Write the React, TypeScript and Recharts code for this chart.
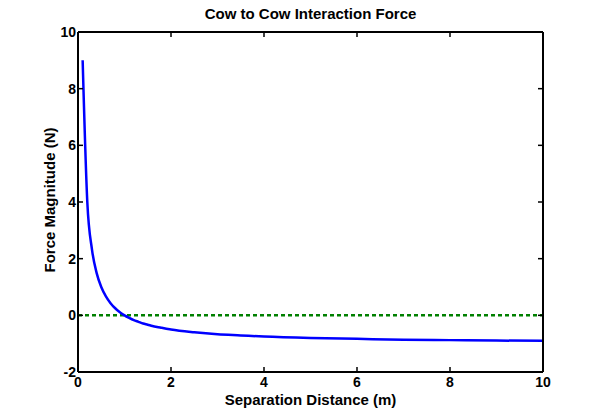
import { LineChart, Line, XAxis, YAxis, ReferenceLine } from 'recharts'

// separation distance (m) and force magnitude (N)
const distances = [
  0.1, 0.2, 0.3, 0.4, 0.5, 0.6, 0.7, 0.8, 0.9, 1.0,
  1.1, 1.2, 1.3, 1.4, 1.5, 1.6, 1.7, 1.8, 1.9, 2.0,
  2.5, 3, 3.5, 4, 5, 6, 7, 8, 9, 10,
]
const forces = [
  9, 4, 2.33, 1.5, 1, 0.67, 0.43, 0.25, 0.11, 0,
  -0.09, -0.17, -0.23, -0.29, -0.33, -0.375, -0.41, -0.44, -0.47, -0.5,
  -0.6, -0.67, -0.71, -0.75, -0.8, -0.83, -0.86, -0.875, -0.89, -0.9,
]
const xTicks = [0, 2, 4, 6, 8, 10]
const yTicks = [-2, 0, 2, 4, 6, 8, 10]

const data = distances.map((x, i) => ({ x, force: forces[i] }))

const FONT = '"Liberation Sans", Arial, Helvetica, sans-serif'
const tickStyle = { fontSize: 14, fontWeight: 700, fill: '#000', fontFamily: FONT }
const axisLine = { stroke: '#000', strokeWidth: 2 }
const tickLine = { stroke: '#000', strokeWidth: 1.5 }
const blank = () => ''

if (typeof document !== 'undefined') document.body.style.margin = '0'

export default function App() {
  return (
    <div style={{ position: 'relative', width: 600, height: 419, background: '#fff', fontFamily: FONT }}>
      <div
        style={{
          position: 'absolute', left: 0, width: 621, top: 6, textAlign: 'center',
          fontSize: 15, fontWeight: 700, lineHeight: '16px',
        }}
      >
        Cow to Cow Interaction Force
      </div>
      <div
        style={{
          position: 'absolute', left: 0, width: 621, top: 392, textAlign: 'center',
          fontSize: 15, fontWeight: 700, lineHeight: '15px',
        }}
      >
        Separation Distance (m)
      </div>
      <div
        style={{
          position: 'absolute', left: 50 - 100, top: 200 - 8, width: 200, textAlign: 'center',
          fontSize: 15, fontWeight: 700, lineHeight: '16px', transform: 'rotate(-90deg)',
        }}
      >
        Force Magnitude (N)
      </div>
      <LineChart
        width={600}
        height={419}
        data={data}
        margin={{ top: 31, right: 56, bottom: 0, left: 0 }}
        style={{ position: 'absolute', left: 0, top: 0 }}
      >
        <XAxis
          type="number"
          dataKey="x"
          domain={[0, 10]}
          ticks={xTicks}
          allowDataOverflow
          height={47}
          tickSize={-5}
          tickMargin={10}
          tick={tickStyle}
          axisLine={axisLine}
          tickLine={tickLine}
        />
        <XAxis
          xAxisId="top"
          orientation="top"
          type="number"
          dataKey="x"
          domain={[0, 10]}
          ticks={xTicks}
          allowDataOverflow
          height={1}
          tickSize={-5}
          tickFormatter={blank}
          axisLine={axisLine}
          tickLine={tickLine}
        />
        <YAxis
          type="number"
          domain={[-2, 10]}
          ticks={yTicks}
          allowDataOverflow
          width={78}
          tickSize={-5}
          tickMargin={7}
          tick={tickStyle}
          axisLine={axisLine}
          tickLine={tickLine}
        />
        <YAxis
          yAxisId="right"
          orientation="right"
          type="number"
          domain={[-2, 10]}
          ticks={yTicks}
          allowDataOverflow
          width={1}
          tickSize={-5}
          tickFormatter={blank}
          axisLine={axisLine}
          tickLine={tickLine}
        />
        <ReferenceLine y={0} stroke="#008000" strokeWidth={2.5} strokeDasharray="4 3" />
        <Line
          xAxisId="top"
          yAxisId="right"
          dataKey="force"
          stroke="none"
          dot={false}
          activeDot={false}
          isAnimationActive={false}
        />
        <Line
          type="monotone"
          dataKey="force"
          stroke="#0000ff"
          strokeWidth={2.5}
          dot={false}
          isAnimationActive={false}
        />
      </LineChart>
    </div>
  )
}
